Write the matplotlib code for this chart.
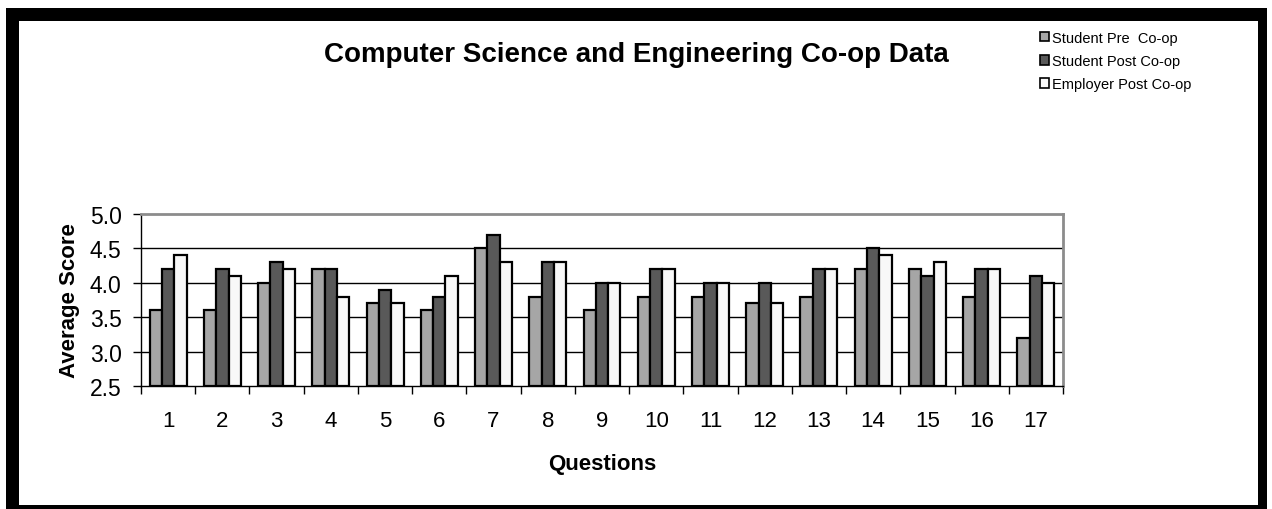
import matplotlib
matplotlib.use("Agg")
import matplotlib.pyplot as plt
from matplotlib.patches import Rectangle, Patch
import numpy as np

plt.rcParams['font.family'] = ['Liberation Sans', 'DejaVu Sans']

questions = [str(i) for i in range(1, 18)]
pre_coop = [3.6, 3.6, 4.0, 4.2, 3.7, 3.6, 4.5, 3.8, 3.6, 3.8, 3.8, 3.7, 3.8, 4.2, 4.2, 3.8, 3.2]
post_coop = [4.2, 4.2, 4.3, 4.2, 3.9, 3.8, 4.7, 4.3, 4.0, 4.2, 4.0, 4.0, 4.2, 4.5, 4.1, 4.2, 4.1]
employer_post = [4.4, 4.1, 4.2, 3.8, 3.7, 4.1, 4.3, 4.3, 4.0, 4.2, 4.0, 3.7, 4.2, 4.4, 4.3, 4.2, 4.0]
series_names = ["Student Pre  Co-op", "Student Post Co-op", "Employer Post Co-op"]
series_colors = ["#A6A6A6", "#595959", "#F8F8F8"]
y_ticks = [2.5, 3.0, 3.5, 4.0, 4.5, 5.0]

W, H = 1272, 510
fig = plt.figure(figsize=(W / 100, H / 100), dpi=100)

def fx(px):
    return px / W

def fy(py):
    return 1 - py / H

# black border
for (x0, y0, x1, y1) in [(6, 9, 1267, 22), (6, 9, 19, 510), (1258, 9, 1267, 510), (6, 506, 1267, 510)]:
    fig.patches.append(Rectangle((fx(x0), fy(y1)), fx(x1) - fx(x0), fy(y0) - fy(y1),
                                 transform=fig.transFigure, facecolor='black', edgecolor='none', zorder=0))

ax = fig.add_axes([fx(141), fy(387), fx(1063) - fx(141), fy(215) - fy(387)])

x = np.arange(len(questions))
bw = 0.227
for i, (vals, col, name) in enumerate(zip([pre_coop, post_coop, employer_post], series_colors, series_names)):
    ax.bar(x + (i - 1) * bw, np.array(vals) - 2.5, bottom=2.5, width=bw, color=col,
           edgecolor='black', linewidth=1.6, label=name, zorder=3)

ax.set_xlim(-0.5, len(questions) - 0.5)
ax.set_ylim(2.5, 5.0)
ax.set_yticks(y_ticks)
ax.set_yticklabels([f"{v:.1f}" for v in y_ticks], fontsize=16.5)
ax.set_xticks(x)
ax.set_xticklabels(questions, fontsize=16)
ax.tick_params(axis='x', which='major', length=0, pad=17)
ax.set_xticks(np.arange(-0.5, len(questions) + 0.5, 1), minor=True)
ax.tick_params(axis='x', which='minor', length=6, width=1, color='black', direction='out')
ax.tick_params(axis='y', length=6, width=1, direction='out', pad=8)

for v in y_ticks[1:-1]:
    ax.axhline(v, color='black', linewidth=1, zorder=1)

ax.spines['left'].set_color('black')
ax.spines['bottom'].set_color('black')
ax.spines['top'].set_color('#8C8C8C')
ax.spines['right'].set_color('#8C8C8C')
ax.spines['top'].set_linewidth(2)
ax.spines['right'].set_linewidth(2)
ax.spines['left'].set_linewidth(1)
ax.spines['bottom'].set_linewidth(1)

ax.set_ylabel("Average Score", fontsize=16, fontweight='bold', labelpad=7)
ax.set_xlabel("Questions", fontsize=16, fontweight='bold', labelpad=16)

fig.text(fx(636), fy(55), "Computer Science and Engineering Co-op Data", fontsize=20,
         fontweight='bold', ha='center', va='center')

handles = [Patch(facecolor=c, edgecolor='black', linewidth=1.2) for c in series_colors]
fig.legend(handles, series_names, loc='upper left', bbox_to_anchor=(fx(1040), fy(32)),
           frameon=False, fontsize=10.5, handlelength=0.6, handleheight=0.6,
           handletextpad=0.25, labelspacing=0.62, borderpad=0, borderaxespad=0)

fig.savefig("out.png", dpi=100)
